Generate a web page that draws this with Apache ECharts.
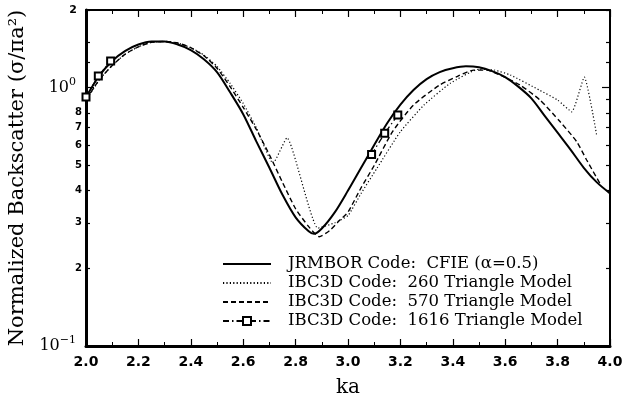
<!DOCTYPE html>
<html>
<head>
<meta charset="utf-8">
<script src="https://cdn.jsdelivr.net/npm/echarts@6/dist/echarts.min.js"></script>
<style>
  html, body { margin: 0; padding: 0; background: #fff; }
  #chart { width: 624px; height: 402px; }
</style>
</head>
<body>
<div id="chart"></div>
<script>
// JRMBOR, CFIE (alpha = 0.5)
const kaJrmbor = [2.00, 2.05, 2.10, 2.15, 2.20, 2.25, 2.30, 2.35, 2.40, 2.45, 2.50, 2.55, 2.60, 2.65, 2.70, 2.75, 2.80, 2.85, 2.87, 2.90, 2.95, 3.00, 3.05, 3.10, 3.15, 3.20, 3.25, 3.30, 3.35, 3.40, 3.45, 3.50, 3.55, 3.60, 3.65, 3.70, 3.75, 3.80, 3.85, 3.90, 3.95, 4.00];
const rcsJrmbor = [0.92, 1.11, 1.27, 1.39, 1.47, 1.51, 1.51, 1.47, 1.40, 1.29, 1.15, 0.96, 0.79, 0.62, 0.49, 0.385, 0.315, 0.278, 0.272, 0.285, 0.33, 0.40, 0.49, 0.60, 0.73, 0.86, 0.98, 1.08, 1.15, 1.19, 1.21, 1.20, 1.16, 1.10, 1.01, 0.91, 0.78, 0.67, 0.575, 0.49, 0.43, 0.39];

// IBC3D, 260 triangles
const ka260 = [2.00, 2.05, 2.10, 2.15, 2.20, 2.25, 2.30, 2.35, 2.40, 2.45, 2.50, 2.55, 2.60, 2.65, 2.714, 2.767, 2.885, 2.95, 3.00, 3.05, 3.11, 3.20, 3.29, 3.39, 3.50, 3.56, 3.62, 3.73, 3.80, 3.854, 3.902, 3.949];
const rcs260 = [0.89, 1.07, 1.22, 1.35, 1.44, 1.50, 1.51, 1.49, 1.43, 1.34, 1.21, 1.04, 0.87, 0.70, 0.51, 0.64, 0.286, 0.30, 0.32, 0.39, 0.487, 0.676, 0.857, 1.04, 1.18, 1.17, 1.12, 0.98, 0.896, 0.807, 1.10, 0.656];

// IBC3D, 570 triangles
const ka570 = [2.00, 2.05, 2.10, 2.15, 2.20, 2.25, 2.30, 2.35, 2.40, 2.45, 2.50, 2.55, 2.60, 2.65, 2.70, 2.75, 2.80, 2.85, 2.89, 2.93, 2.97, 3.00, 3.05, 3.10, 3.17, 3.25, 3.35, 3.42, 3.48, 3.53, 3.58, 3.656, 3.733, 3.81, 3.873, 3.911, 3.965];
const rcs570 = [0.90, 1.07, 1.22, 1.35, 1.44, 1.50, 1.51, 1.49, 1.43, 1.33, 1.19, 1.01, 0.84, 0.69, 0.55, 0.43, 0.34, 0.29, 0.265, 0.28, 0.308, 0.33, 0.41, 0.50, 0.676, 0.857, 1.025, 1.11, 1.17, 1.17, 1.12, 1.025, 0.896, 0.738, 0.618, 0.525, 0.42];

// IBC3D, 1616 triangles (only two short runs, null = gap)
const ka1616 = [2.00, 2.047, 2.094, 2.60, 3.09, 3.14, 3.19];
const rcs1616 = [0.92, 1.11, 1.27, null, 0.552, 0.666, 0.784];

const seriesNames = [
  'JRMBOR Code:  CFIE (α=0.5)',
  'IBC3D Code:  260 Triangle Model',
  'IBC3D Code:  570 Triangle Model',
  'IBC3D Code:  1616 Triangle Model'
];

const majorY = [0.1, 1];
const minorY = [0.2, 0.3, 0.4, 0.5, 0.6, 0.7, 0.8, 0.9, 1.25, 1.5, 2];
const labelY = [0.1, 0.2, 0.3, 0.4, 0.5, 0.6, 0.7, 0.8, 1, 2];

function pairs(xs, ys) {
  return xs.map(function (x, i) { return [x, ys[i] == null ? '-' : ys[i]]; });
}

function yLabel(v) {
  if (Math.abs(v - 0.1) < 1e-6) return '{big|10}{sup|−1}';
  if (Math.abs(v - 1) < 1e-6) return '{big|10}{sup|0}';
  if (Math.abs(v - 2) < 1e-6) return '{top|2}';
  return '{small|' + Math.round(v * 10) + '}';
}

const serif = 'DejaVu Serif';
const sans = 'DejaVu Sans';

function xAxisBase(pos, lineW, showLabel) {
  return {
    type: 'value', position: pos, min: 2, max: 4, interval: 0.2,
    axisLine: { show: true, lineStyle: { color: '#000', width: lineW } },
    axisTick: { show: true, inside: true, length: 7, lineStyle: { color: '#000', width: 1.2 } },
    minorTick: { show: true, splitNumber: 2, length: 4, lineStyle: { color: '#000', width: 1 } },
    splitLine: { show: false },
    axisLabel: {
      show: showLabel, margin: 9, color: '#000', fontFamily: sans, fontWeight: 'bold', fontSize: 14,
      formatter: function (v) { return v.toFixed(1); }
    }
  };
}

function yAxisBase(pos, lineW, ticks, len, withLabel) {
  return {
    type: 'log', logBase: 10, position: pos, min: 0.1, max: 2,
    axisLine: { show: lineW > 0, lineStyle: { color: '#000', width: lineW } },
    axisTick: { show: true, inside: true, length: len, customValues: ticks, lineStyle: { color: '#000', width: 1.2 } },
    splitLine: { show: false },
    axisLabel: withLabel ? {
      show: true, margin: 4, customValues: labelY, formatter: yLabel,
      rich: {
        big: { fontFamily: serif, fontSize: 16, color: '#000' },
        sup: { fontFamily: serif, fontSize: 11, color: '#000', padding: [0, 6, 12, 0] },
        top: { fontFamily: sans, fontWeight: 'bold', fontSize: 11, color: '#000', padding: [0, 5, 0, 0] },
        small: { fontFamily: sans, fontWeight: 'bold', fontSize: 10, color: '#000' }
      }
    } : { show: false }
  };
}

let myChart = echarts.init(document.getElementById('chart'), null, { renderer: 'canvas' });

// plain line icons in the legend, only the last one keeps its square
const legendItems = seriesNames.map(function (n, i) {
  return i < 3 ? { name: n, itemStyle: { opacity: 0 } } : { name: n };
});

let option = {
  backgroundColor: '#fff',
  animation: false,
  grid: { left: 86, right: 14, top: 10, bottom: 56, containLabel: false, outerBoundsMode: 'none' },
  legend: {
    orient: 'vertical', left: 217, top: 250,
    itemWidth: 48, itemHeight: 10, itemGap: 1,
    textStyle: { fontFamily: serif, fontSize: 16.5, lineHeight: 18, color: '#000', padding: [0, 0, 0, 12] },
    data: legendItems
  },
  xAxis: [
    Object.assign(xAxisBase('bottom', 3, true), {
      name: 'ka', nameLocation: 'middle', nameGap: 32,
      nameTextStyle: { fontFamily: serif, fontSize: 20, color: '#000' }
    }),
    xAxisBase('top', 2, false)
  ],
  yAxis: [
    Object.assign(yAxisBase('left', 3, majorY, 8, true), {
      name: 'Normalized Backscatter (σ/πa²)', nameLocation: 'middle', nameGap: 49,
      nameTextStyle: { fontFamily: serif, fontSize: 21, color: '#000' }
    }),
    yAxisBase('left', 0, minorY, 4, false),
    yAxisBase('right', 2, majorY, 8, false),
    yAxisBase('right', 0, minorY, 4, false)
  ],
  series: [
    {
      name: seriesNames[0], type: 'line', symbol: 'none', smooth: 0.3,
      itemStyle: { color: '#000' },
      lineStyle: { color: '#000', width: 2 },
      data: pairs(kaJrmbor, rcsJrmbor)
    },
    {
      name: seriesNames[1], type: 'line', symbol: 'none', smooth: 0.15,
      itemStyle: { color: '#000' },
      lineStyle: { color: '#000', width: 1.2, type: [1.2, 2.2] },
      data: pairs(ka260, rcs260)
    },
    {
      name: seriesNames[2], type: 'line', symbol: 'none', smooth: 0.2,
      itemStyle: { color: '#000' },
      lineStyle: { color: '#000', width: 1.4, type: [5, 3] },
      data: pairs(ka570, rcs570)
    },
    {
      name: seriesNames[3], type: 'line', symbol: 'emptyRect', symbolSize: 7, showSymbol: true,
      connectNulls: false,
      itemStyle: { color: '#000', borderColor: '#000', borderWidth: 1.6 },
      lineStyle: { color: '#000', width: 1.3, type: [6, 3, 1.5, 3] },
      data: pairs(ka1616, rcs1616)
    }
  ]
};

myChart.setOption(option);
window.addEventListener('resize', function () { myChart.resize(); });
</script>
</body>
</html>
